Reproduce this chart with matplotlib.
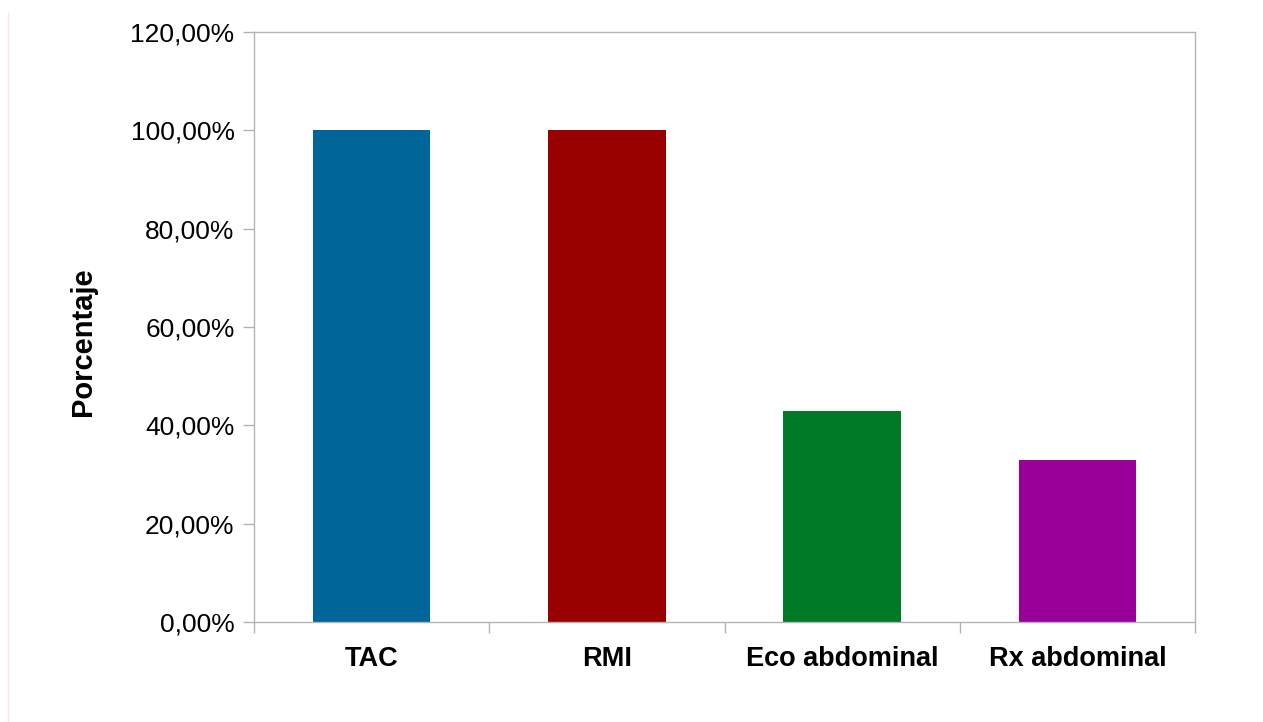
import numpy as np
import matplotlib.pyplot as plt
from matplotlib.lines import Line2D
from matplotlib.ticker import FuncFormatter, FixedLocator

plt.rcParams['font.family'] = ['Liberation Sans', 'DejaVu Sans']

# Data
categories = ['TAC', 'RMI', 'Eco abdominal', 'Rx abdominal']
percentages = [100, 100, 43, 33]
colors = ['#006699', '#990000', '#007a29', '#990099']

W, H = 1263, 722
fig = plt.figure(figsize=(W / 100, H / 100), dpi=100)
ax = fig.add_axes([254 / W, 1 - 622 / H, (1195 - 254) / W, (622 - 32) / H])

x = np.arange(len(categories))
ax.bar(x, percentages, width=0.5, color=colors, zorder=2)

ax.set_xlim(-0.5, len(categories) - 0.5)
ax.set_ylim(0, 120)

grey = '#b3b3b3'
for s in ax.spines.values():
    s.set_color(grey)
    s.set_linewidth(1.0)

ax.yaxis.set_major_locator(FixedLocator(np.arange(0, 121, 20)))
ax.yaxis.set_major_formatter(FuncFormatter(lambda v, p: f'{v:.2f}'.replace('.', ',') + '%'))
ax.tick_params(axis='y', length=8, width=1.0, color=grey, pad=6, labelsize=19)

# category boundaries as ticks, labels centred between them
ax.set_xticks(np.arange(-0.5, len(categories), 1.0))
ax.set_xticklabels([])
ax.set_xticks(x, minor=True)
ax.set_xticklabels(categories, minor=True, fontweight='bold', fontsize=19.5)
ax.tick_params(axis='x', which='major', length=8, width=1.0, color=grey)
ax.tick_params(axis='x', which='minor', length=0, pad=17)

fig.text(83 / W, 1 - 342 / H, 'Porcentaje', rotation=90, fontsize=21,
         fontweight='bold', ha='center', va='center')

# faint border line at the left edge
fig.add_artist(Line2D([7.5 / W, 7.5 / W], [0, 1 - 13 / H], transform=fig.transFigure,
                      color='#f8e4e4', linewidth=1))

fig.savefig('out.png', dpi=100)
